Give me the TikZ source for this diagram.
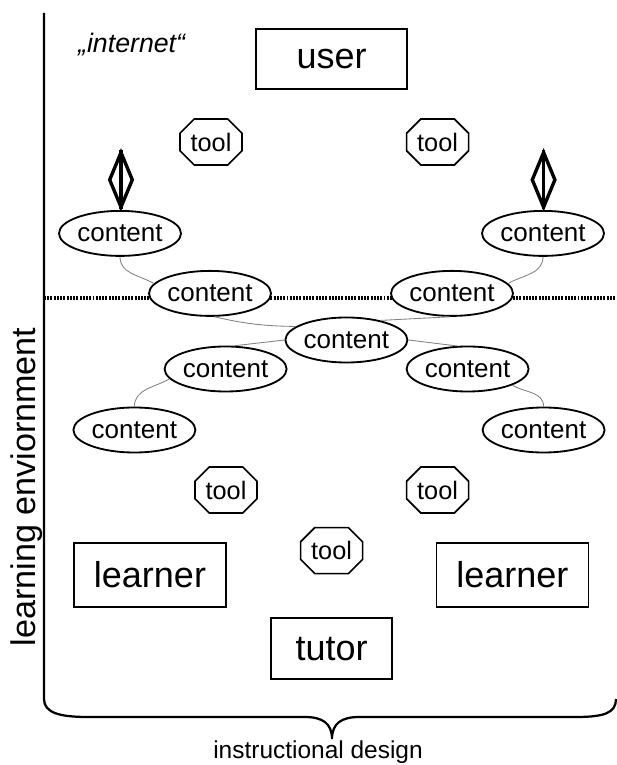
\documentclass[tikz,border=0pt]{standalone}
\usepackage{fontspec}
\setmainfont{Liberation Sans}
\usetikzlibrary{shapes.geometric,shapes.misc}

\begin{document}
\begin{tikzpicture}[x=1cm,y=1cm,
  actorbox/.style={draw,line width=1.2pt,fill=white,inner sep=0pt,
    font=\fontsize{25.6}{30}\selectfont},
  contentnode/.style={ellipse,draw,line width=1.3pt,fill=white,inner sep=0pt,
    minimum width=3.05cm,minimum height=1.125cm,font=\fontsize{18.5}{22}\selectfont},
  toolnode/.style={chamfered rectangle,chamfered rectangle xsep=0.3cm,draw,
    line width=1.2pt,fill=white,inner sep=0pt,minimum width=1.55cm,
    minimum height=1.15cm,font=\fontsize{18}{22}\selectfont},
  gem/.style={diamond,draw,line width=2.4pt,inner sep=0pt,
    minimum width=0.6cm,minimum height=1.40cm},
  wire/.style={draw=gray,line width=0.6pt}]
\path[use as bounding box] (0,0) rectangle (15.40,19.125);
% frame with the brace underneath
\draw[line width=1.6pt] (1.10,18.80) -- (1.10,1.65)
  .. controls (1.10,1.30) and (1.50,1.20) .. (2.20,1.20) -- (7.62,1.20)
  .. controls (8.05,1.20) and (8.30,1.05) .. (8.30,0.65)
  .. controls (8.30,1.05) and (8.55,1.20) .. (8.98,1.20) -- (14.40,1.20)
  .. controls (15.10,1.20) and (15.40,1.30) .. (15.40,1.65);
\draw[line width=2.4pt,dash pattern=on 1.4pt off 0.9pt] (1.10,11.675) -- (15.40,11.675);
\node[font=\fontsize{19}{22}\selectfont\itshape] (net) at (3.29,18.02) {„internet“};
\node[rotate=90,font=\fontsize{24.3}{28}\selectfont] (envlabel) at (0.675,6.95) {learning enviornment};
\node[font=\fontsize{17.4}{20}\selectfont] (design) at (7.95,0.33) {instructional design};
% actors
\node[actorbox,minimum width=3.775cm,minimum height=1.5cm] (user) at (8.29,17.65) {user};
\node[actorbox,minimum width=3.8cm,minimum height=1.6cm] (learnerL) at (3.75,4.75) {learner};
\node[actorbox,minimum width=3.8cm,minimum height=1.6cm] (learnerR) at (12.81,4.75) {learner};
\node[actorbox,minimum width=3.025cm,minimum height=1.525cm] (tutor) at (8.29,2.91) {tutor};
% tools
\node[toolnode] (toolTL) at (5.275,15.575) {tool};
\node[toolnode] (toolTR) at (10.94,15.575) {tool};
\node[toolnode] (toolLL) at (5.65,6.875) {tool};
\node[toolnode] (toolLR) at (10.94,6.875) {tool};
\node[toolnode] (toolM) at (8.29,5.36) {tool};
% contents
\node[contentnode] (cTL) at (3.00,13.29) {content};
\node[contentnode] (cTR) at (13.575,13.29) {content};
\node[contentnode] (cML) at (5.25,11.79) {content};
\node[contentnode] (cMR) at (11.30,11.79) {content};
\node[contentnode] (cC) at (8.66,10.625) {content};
\node[contentnode] (cL2) at (5.64,9.90) {content};
\node[contentnode] (cR2) at (11.69,9.90) {content};
\node[contentnode] (cLL) at (3.36,8.375) {content};
\node[contentnode] (cLR) at (13.59,8.375) {content};
% gems on top of the outer contents
\node[gem] (gemL) at (3.025,14.63) {};
\draw[line width=2.4pt] (gemL.north) -- (gemL.south);
\node[gem] (gemR) at (13.59,14.63) {};
\draw[line width=2.4pt] (gemR.north) -- (gemR.south);
% links between contents
\draw[wire] (cTL.south) to[out=-90,in=150] (cML.170);
\draw[wire] (cTR.south) to[out=-90,in=30] (cMR.10);
\draw[wire] (cML.-80) to[bend right=6] (cC.165);
\draw[wire] (cC.30) -- (cMR.-95);
\draw[wire] (cC.west) -- (cL2.70);
\draw[wire] (cC.east) -- (cR2.115);
\draw[wire] (cL2.190) to[out=210,in=90] (cLL.north);
\draw[wire] (cR2.-20) to[out=-30,in=90] (cLR.north);
\end{tikzpicture}
\end{document}
